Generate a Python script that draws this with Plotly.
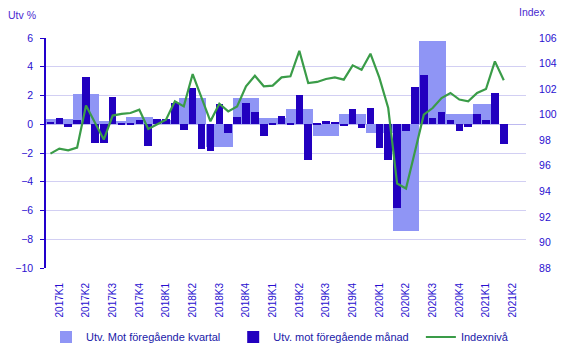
import plotly.graph_objects as go

quarter_labels = ["2017K1", "2017K2", "2017K3", "2017K4", "2018K1", "2018K2", "2018K3", "2018K4",
                  "2019K1", "2019K2", "2019K3", "2019K4", "2020K1", "2020K2", "2020K3", "2020K4",
                  "2021K1", "2021K2"]

# month-on-month change (%), Jan 2017 - Apr 2021
monthly = [0.15, 0.42, -0.19, 0.28, 3.28, -1.32, -1.32, 1.88, 0.07, 0.08, 0.30, -1.51,
           0.35, 0.35, 1.46, -0.39, 2.51, -1.70, -1.86, 1.39, -0.63, 0.49, 1.46, 0.84,
           -0.81, 0.07, 0.56, 0.07, 2.02, -2.49, 0.07, 0.21, 0.14, -0.12, 1.05, -0.26,
           1.16, -1.67, -2.49, -5.85, -0.46, 2.62, 3.41, 0.46, 0.84, 0.30, -0.46, -0.19,
           0.70, 0.30, 2.16, -1.37]

# quarter-on-quarter change (%), 2017K1 - 2021K1
quarterly = [0.35, 2.09, 0.20, 0.49, 0.30, 1.81, -1.60, 1.86, 0.46, 1.05, -0.81, 0.70,
             -0.58, -7.40, 5.80, 0.70, 1.39]

# index level, Jan 2017 - Apr 2021
index_level = [96.95, 97.34, 97.21, 97.42, 100.71, 99.38, 98.05, 99.93, 100.06, 100.13, 100.39, 98.88,
               99.24, 99.61, 101.04, 100.65, 103.18, 101.33, 99.48, 100.86, 100.26, 100.65, 102.22, 103.05,
               102.22, 102.27, 102.92, 103.00, 105.00, 102.48, 102.56, 102.79, 102.92, 102.74, 103.86, 103.52,
               104.77, 102.90, 100.52, 94.61, 94.22, 97.10, 100.00, 100.52, 101.30, 101.70, 101.18, 101.05,
               101.70, 102.01, 104.17, 102.69]

month_x = list(range(len(monthly)))
quarter_x = [3 * i + 1 for i in range(len(quarterly))]
tick_x = [3 * i + 1 for i in range(len(quarter_labels))]

TXT = "#2a10d0"
LEG = "#2020a8"
FONT = "Liberation Sans, Arial, sans-serif"

fig = go.Figure()
fig.add_trace(go.Bar(x=quarter_x, y=quarterly, width=3, name="Utv. Mot föregående kvartal",
                     marker=dict(color="#8f95f5", line=dict(width=0)), legend="legend"))
fig.add_trace(go.Bar(x=month_x, y=monthly, width=0.85, name="Utv. mot föregående månad",
                     marker=dict(color="#2200bf", line=dict(width=0)), legend="legend2"))
fig.add_trace(go.Scatter(x=month_x, y=index_level, name="Indexnivå", yaxis="y2", mode="lines",
                         line=dict(color="#3a9c48", width=2.2), legend="legend3"))

leg_common = dict(orientation="h", xanchor="left", y=-0.30, yanchor="middle",
                  font=dict(size=11, color=LEG, family=FONT), bgcolor="rgba(0,0,0,0)",
                  itemwidth=30)

fig.update_layout(
    width=567, height=360,
    margin=dict(l=46, r=41, t=38, b=92, autoexpand=False),
    paper_bgcolor="white", plot_bgcolor="white",
    barmode="overlay", bargap=0,
    font=dict(family=FONT, size=10, color=TXT),
    showlegend=True,
    legend=dict(x=0.0, **leg_common),
    legend2=dict(x=0.390, **leg_common),
    legend3=dict(x=0.781, **leg_common),
    xaxis=dict(range=[-0.5, 53.5], tickmode="array", tickvals=tick_x, ticktext=quarter_labels,
               tickangle=-90, showgrid=False, zeroline=False, showline=False,
               ticks="outside", ticklen=10, tickcolor="rgba(0,0,0,0)",
               tickfont=dict(size=10, color=TXT)),
    yaxis=dict(range=[-10, 6], dtick=2, tick0=0, showgrid=True, gridcolor="#d2cff3", gridwidth=1,
               zeroline=True, zerolinecolor="#bdb9f0", zerolinewidth=1,
               showline=True, linecolor="#2200cc", linewidth=1.5,
               ticks="outside", ticklen=4, tickcolor="#2200cc", ticklabelstandoff=5,
               tickfont=dict(size=10.5, color=TXT)),
    yaxis2=dict(range=[88, 106], dtick=2, overlaying="y", side="right", showgrid=False,
                zeroline=False, showline=False, ticks="outside", ticklen=4,
                tickcolor="rgba(0,0,0,0)", ticklabelstandoff=6, tickfont=dict(size=10.5, color=TXT)),
    annotations=[
        dict(text="Utv %", xref="paper", yref="paper", x=-40 / 480, y=1 + 23 / 230,
             xanchor="left", yanchor="middle", showarrow=False, font=dict(size=10.5, color="#4a2ad0")),
        dict(text="Index", xref="paper", yref="paper", x=1 + 21 / 480, y=1 + 26 / 230,
             xanchor="right", yanchor="middle", showarrow=False, font=dict(size=10.5, color="#4a2ad0")),
    ],
)

fig.write_html("out.html", config={"displayModeBar": False},
               post_script="document.body.style.margin='0';")
